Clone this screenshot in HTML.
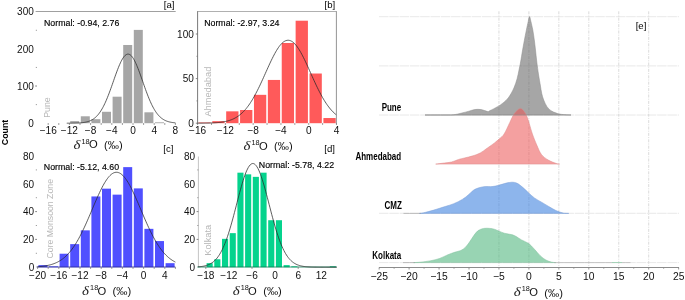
<!DOCTYPE html>
<html><head><meta charset="utf-8"><style>
html,body{margin:0;padding:0;background:#fff;}
svg{display:block;will-change:transform;font-family:"Liberation Sans", sans-serif;}
</style></head><body>
<svg width="685" height="300" viewBox="0 0 685 300">
<rect width="685" height="300" fill="#fff"/>
<line x1="35.6" y1="11.5" x2="175.7" y2="11.5" stroke="#a0a0a0" stroke-width="1"/>
<rect x="70.20" y="121.12" width="9.00" height="2.08" fill="#a6a6a6"/>
<rect x="80.80" y="116.29" width="9.00" height="6.91" fill="#a6a6a6"/>
<rect x="91.40" y="119.19" width="9.00" height="4.01" fill="#a6a6a6"/>
<rect x="102.00" y="111.79" width="9.00" height="11.41" fill="#a6a6a6"/>
<rect x="112.60" y="96.70" width="9.00" height="26.50" fill="#a6a6a6"/>
<rect x="123.20" y="44.99" width="9.00" height="78.21" fill="#a6a6a6"/>
<rect x="133.80" y="29.90" width="9.00" height="93.30" fill="#a6a6a6"/>
<rect x="144.40" y="112.31" width="9.00" height="10.89" fill="#a6a6a6"/>
<rect x="155.00" y="122.31" width="9.00" height="0.89" fill="#a6a6a6"/>
<path d="M66.75,123.19 L67.43,123.19 L68.11,123.18 L68.79,123.18 L69.47,123.18 L70.15,123.17 L70.82,123.17 L71.50,123.16 L72.18,123.15 L72.86,123.14 L73.54,123.13 L74.22,123.12 L74.90,123.11 L75.58,123.09 L76.26,123.07 L76.94,123.04 L77.62,123.02 L78.29,122.99 L78.97,122.95 L79.65,122.91 L80.33,122.86 L81.01,122.80 L81.69,122.74 L82.37,122.67 L83.05,122.59 L83.73,122.49 L84.41,122.39 L85.08,122.27 L85.76,122.13 L86.44,121.98 L87.12,121.81 L87.80,121.62 L88.48,121.41 L89.16,121.17 L89.84,120.91 L90.52,120.62 L91.20,120.29 L91.88,119.94 L92.55,119.54 L93.23,119.11 L93.91,118.64 L94.59,118.12 L95.27,117.56 L95.95,116.95 L96.63,116.29 L97.31,115.57 L97.99,114.80 L98.67,113.97 L99.34,113.08 L100.02,112.13 L100.70,111.11 L101.38,110.03 L102.06,108.89 L102.74,107.67 L103.42,106.40 L104.10,105.05 L104.78,103.64 L105.46,102.17 L106.14,100.63 L106.81,99.03 L107.49,97.38 L108.17,95.67 L108.85,93.91 L109.53,92.11 L110.21,90.27 L110.89,88.39 L111.57,86.48 L112.25,84.56 L112.93,82.62 L113.61,80.67 L114.28,78.73 L114.96,76.80 L115.64,74.89 L116.32,73.01 L117.00,71.17 L117.68,69.37 L118.36,67.64 L119.04,65.97 L119.72,64.38 L120.40,62.87 L121.08,61.46 L121.75,60.15 L122.43,58.96 L123.11,57.88 L123.79,56.93 L124.47,56.10 L125.15,55.42 L125.83,54.87 L126.51,54.47 L127.19,54.21 L127.87,54.10 L128.54,54.15 L129.22,54.34 L129.90,54.67 L130.58,55.15 L131.26,55.78 L131.94,56.54 L132.62,57.44 L133.30,58.46 L133.98,59.60 L134.66,60.86 L135.34,62.23 L136.01,63.69 L136.69,65.24 L137.37,66.88 L138.05,68.59 L138.73,70.35 L139.41,72.18 L140.09,74.04 L140.77,75.94 L141.45,77.86 L142.13,79.80 L142.81,81.74 L143.48,83.69 L144.16,85.62 L144.84,87.54 L145.52,89.43 L146.20,91.29 L146.88,93.11 L147.56,94.89 L148.24,96.62 L148.92,98.30 L149.60,99.92 L150.27,101.48 L150.95,102.99 L151.63,104.43 L152.31,105.80 L152.99,107.11 L153.67,108.35 L154.35,109.53 L155.03,110.64 L155.71,111.68 L156.39,112.66 L157.07,113.58 L157.74,114.44 L158.42,115.23 L159.10,115.97 L159.78,116.66 L160.46,117.29 L161.14,117.88 L161.82,118.41 L162.50,118.90 L163.18,119.35 L163.86,119.76 L164.53,120.14 L165.21,120.47 L165.89,120.78 L166.57,121.06 L167.25,121.31 L167.93,121.53 L168.61,121.73 L169.29,121.91 L169.97,122.07 L170.65,122.21 L171.33,122.34 L172.00,122.45 L172.68,122.55 L173.36,122.63 L174.04,122.71 L174.72,122.78 L175.40,122.84" fill="none" stroke="#282828" stroke-width="0.75"/>
<text x="48.20" y="134.00" font-size="10.1" text-anchor="middle" font-weight="normal" fill="#111" >−16</text>
<text x="69.40" y="134.00" font-size="10.1" text-anchor="middle" font-weight="normal" fill="#111" >−12</text>
<text x="90.60" y="134.00" font-size="10.1" text-anchor="middle" font-weight="normal" fill="#111" >−8</text>
<text x="111.80" y="134.00" font-size="10.1" text-anchor="middle" font-weight="normal" fill="#111" >−4</text>
<text x="133.00" y="134.00" font-size="10.1" text-anchor="middle" font-weight="normal" fill="#111" >0</text>
<text x="154.20" y="134.00" font-size="10.1" text-anchor="middle" font-weight="normal" fill="#111" >4</text>
<text x="175.40" y="134.00" font-size="10.1" text-anchor="middle" font-weight="normal" fill="#111" >8</text>
<line x1="48.20" y1="123.20" x2="48.20" y2="124.80" stroke="#666" stroke-width="0.8"/>
<line x1="58.80" y1="123.20" x2="58.80" y2="124.80" stroke="#666" stroke-width="0.8"/>
<line x1="69.40" y1="123.20" x2="69.40" y2="124.80" stroke="#666" stroke-width="0.8"/>
<line x1="80.00" y1="123.20" x2="80.00" y2="124.80" stroke="#666" stroke-width="0.8"/>
<line x1="90.60" y1="123.20" x2="90.60" y2="124.80" stroke="#666" stroke-width="0.8"/>
<line x1="101.20" y1="123.20" x2="101.20" y2="124.80" stroke="#666" stroke-width="0.8"/>
<line x1="111.80" y1="123.20" x2="111.80" y2="124.80" stroke="#666" stroke-width="0.8"/>
<line x1="122.40" y1="123.20" x2="122.40" y2="124.80" stroke="#666" stroke-width="0.8"/>
<line x1="133.00" y1="123.20" x2="133.00" y2="124.80" stroke="#666" stroke-width="0.8"/>
<line x1="143.60" y1="123.20" x2="143.60" y2="124.80" stroke="#666" stroke-width="0.8"/>
<line x1="154.20" y1="123.20" x2="154.20" y2="124.80" stroke="#666" stroke-width="0.8"/>
<line x1="164.80" y1="123.20" x2="164.80" y2="124.80" stroke="#666" stroke-width="0.8"/>
<line x1="175.40" y1="123.20" x2="175.40" y2="124.80" stroke="#666" stroke-width="0.8"/>
<text x="33.80" y="15.39" font-size="10.0" text-anchor="end" font-weight="normal" fill="#111" >300</text>
<text x="33.80" y="52.56" font-size="10.0" text-anchor="end" font-weight="normal" fill="#111" >200</text>
<text x="33.80" y="89.73" font-size="10.0" text-anchor="end" font-weight="normal" fill="#111" >100</text>
<text x="33.80" y="126.90" font-size="10.0" text-anchor="end" font-weight="normal" fill="#111" >0</text>
<line x1="35.20" y1="86.03" x2="37.00" y2="86.03" stroke="#666" stroke-width="0.8"/>
<line x1="35.80" y1="30.28" x2="37.00" y2="30.28" stroke="#888" stroke-width="0.8"/>
<line x1="35.80" y1="67.45" x2="37.00" y2="67.45" stroke="#888" stroke-width="0.8"/>
<line x1="35.80" y1="104.62" x2="37.00" y2="104.62" stroke="#888" stroke-width="0.8"/>
<text x="44.00" y="26.00" font-size="8.8" text-anchor="start" font-weight="normal" fill="#000" stroke="#000" stroke-width="0.15">Normal: -0.94, 2.76</text>
<text x="174.50" y="8.20" font-size="9.6" text-anchor="end" font-weight="normal" fill="#000" >[a]</text>
<text transform="translate(50.4,117.8) rotate(-90)" font-size="9.6" fill="#b8b8b8" textLength="20.5" lengthAdjust="spacingAndGlyphs">Pune</text>
<text transform="translate(73.50,148.50) scale(1.22,1)" font-family="Liberation Serif" font-style="italic" font-size="12.2" fill="#222">δ</text>
<text x="81.50" y="143.50" font-size="7.3" fill="#111">18</text>
<text x="88.90" y="148.20" font-size="11.2" fill="#111">O</text>
<text x="104.00" y="148.80" font-size="11.2" fill="#111">(‰)</text>
<rect x="198.40" y="122.49" width="12.29" height="0.71" fill="#ff5a5a"/>
<rect x="212.29" y="121.15" width="12.29" height="2.05" fill="#ff5a5a"/>
<rect x="226.18" y="111.34" width="12.29" height="11.86" fill="#ff5a5a"/>
<rect x="240.07" y="110.00" width="12.29" height="13.20" fill="#ff5a5a"/>
<rect x="253.96" y="94.83" width="12.29" height="28.37" fill="#ff5a5a"/>
<rect x="267.85" y="79.94" width="12.29" height="43.26" fill="#ff5a5a"/>
<rect x="281.74" y="43.01" width="12.29" height="80.19" fill="#ff5a5a"/>
<rect x="295.63" y="20.71" width="12.29" height="102.49" fill="#ff5a5a"/>
<rect x="309.52" y="73.52" width="12.29" height="49.68" fill="#ff5a5a"/>
<rect x="323.41" y="118.03" width="12.29" height="5.17" fill="#ff5a5a"/>
<path d="M197.60,123.17 L198.47,123.17 L199.34,123.17 L200.20,123.16 L201.07,123.15 L201.94,123.15 L202.81,123.14 L203.68,123.13 L204.54,123.12 L205.41,123.10 L206.28,123.09 L207.15,123.07 L208.02,123.05 L208.89,123.03 L209.75,123.01 L210.62,122.98 L211.49,122.95 L212.36,122.91 L213.23,122.87 L214.09,122.83 L214.96,122.78 L215.83,122.72 L216.70,122.66 L217.57,122.59 L218.44,122.51 L219.30,122.42 L220.17,122.33 L221.04,122.22 L221.91,122.10 L222.78,121.97 L223.64,121.83 L224.51,121.67 L225.38,121.49 L226.25,121.30 L227.12,121.09 L227.98,120.86 L228.85,120.61 L229.72,120.33 L230.59,120.03 L231.46,119.71 L232.32,119.35 L233.19,118.97 L234.06,118.56 L234.93,118.11 L235.80,117.63 L236.67,117.11 L237.53,116.55 L238.40,115.96 L239.27,115.32 L240.14,114.64 L241.01,113.91 L241.87,113.14 L242.74,112.32 L243.61,111.44 L244.48,110.52 L245.35,109.55 L246.22,108.52 L247.08,107.44 L247.95,106.30 L248.82,105.11 L249.69,103.87 L250.56,102.57 L251.42,101.21 L252.29,99.80 L253.16,98.34 L254.03,96.83 L254.90,95.26 L255.76,93.65 L256.63,91.98 L257.50,90.28 L258.37,88.53 L259.24,86.75 L260.11,84.93 L260.97,83.07 L261.84,81.20 L262.71,79.30 L263.58,77.38 L264.45,75.44 L265.31,73.51 L266.18,71.56 L267.05,69.63 L267.92,67.70 L268.79,65.79 L269.65,63.90 L270.52,62.04 L271.39,60.22 L272.26,58.44 L273.13,56.71 L274.00,55.03 L274.86,53.41 L275.73,51.86 L276.60,50.39 L277.47,49.00 L278.34,47.69 L279.20,46.47 L280.07,45.35 L280.94,44.33 L281.81,43.42 L282.68,42.61 L283.54,41.92 L284.41,41.35 L285.28,40.89 L286.15,40.55 L287.02,40.34 L287.88,40.25 L288.75,40.28 L289.62,40.44 L290.49,40.71 L291.36,41.11 L292.23,41.63 L293.09,42.27 L293.96,43.02 L294.83,43.88 L295.70,44.85 L296.57,45.92 L297.43,47.09 L298.30,48.36 L299.17,49.71 L300.04,51.15 L300.91,52.66 L301.77,54.24 L302.64,55.89 L303.51,57.60 L304.38,59.36 L305.25,61.16 L306.12,63.01 L306.98,64.88 L307.85,66.78 L308.72,68.70 L309.59,70.63 L310.46,72.57 L311.32,74.51 L312.19,76.45 L313.06,78.38 L313.93,80.29 L314.80,82.18 L315.66,84.04 L316.53,85.88 L317.40,87.68 L318.27,89.45 L319.14,91.17 L320.01,92.85 L320.87,94.49 L321.74,96.08 L322.61,97.62 L323.48,99.11 L324.35,100.54 L325.21,101.92 L326.08,103.25 L326.95,104.52 L327.82,105.74 L328.69,106.90 L329.56,108.01 L330.42,109.06 L331.29,110.06 L332.16,111.01 L333.03,111.90 L333.90,112.75 L334.76,113.55 L335.63,114.29 L336.50,115.00" fill="none" stroke="#282828" stroke-width="0.75"/>
<text x="197.60" y="134.00" font-size="10.1" text-anchor="middle" font-weight="normal" fill="#111" >−16</text>
<text x="225.38" y="134.00" font-size="10.1" text-anchor="middle" font-weight="normal" fill="#111" >−12</text>
<text x="253.16" y="134.00" font-size="10.1" text-anchor="middle" font-weight="normal" fill="#111" >−8</text>
<text x="280.94" y="134.00" font-size="10.1" text-anchor="middle" font-weight="normal" fill="#111" >−4</text>
<text x="308.72" y="134.00" font-size="10.1" text-anchor="middle" font-weight="normal" fill="#111" >0</text>
<text x="336.50" y="134.00" font-size="10.1" text-anchor="middle" font-weight="normal" fill="#111" >4</text>
<line x1="197.60" y1="123.20" x2="197.60" y2="124.80" stroke="#666" stroke-width="0.8"/>
<line x1="211.49" y1="123.20" x2="211.49" y2="124.80" stroke="#666" stroke-width="0.8"/>
<line x1="225.38" y1="123.20" x2="225.38" y2="124.80" stroke="#666" stroke-width="0.8"/>
<line x1="239.27" y1="123.20" x2="239.27" y2="124.80" stroke="#666" stroke-width="0.8"/>
<line x1="253.16" y1="123.20" x2="253.16" y2="124.80" stroke="#666" stroke-width="0.8"/>
<line x1="267.05" y1="123.20" x2="267.05" y2="124.80" stroke="#666" stroke-width="0.8"/>
<line x1="280.94" y1="123.20" x2="280.94" y2="124.80" stroke="#666" stroke-width="0.8"/>
<line x1="294.83" y1="123.20" x2="294.83" y2="124.80" stroke="#666" stroke-width="0.8"/>
<line x1="308.72" y1="123.20" x2="308.72" y2="124.80" stroke="#666" stroke-width="0.8"/>
<line x1="322.61" y1="123.20" x2="322.61" y2="124.80" stroke="#666" stroke-width="0.8"/>
<line x1="336.50" y1="123.20" x2="336.50" y2="124.80" stroke="#666" stroke-width="0.8"/>
<text x="193.80" y="37.70" font-size="10.0" text-anchor="end" font-weight="normal" fill="#111" >100</text>
<text x="193.80" y="82.30" font-size="10.0" text-anchor="end" font-weight="normal" fill="#111" >50</text>
<text x="193.80" y="126.90" font-size="10.0" text-anchor="end" font-weight="normal" fill="#111" >0</text>
<line x1="195.80" y1="34.00" x2="197.60" y2="34.00" stroke="#666" stroke-width="0.8"/>
<line x1="195.80" y1="78.60" x2="197.60" y2="78.60" stroke="#666" stroke-width="0.8"/>
<line x1="195.80" y1="123.20" x2="197.60" y2="123.20" stroke="#666" stroke-width="0.8"/>
<line x1="196.40" y1="56.30" x2="197.60" y2="56.30" stroke="#888" stroke-width="0.8"/>
<line x1="196.40" y1="100.90" x2="197.60" y2="100.90" stroke="#888" stroke-width="0.8"/>
<line x1="197.6" y1="11.5" x2="336.4" y2="11.5" stroke="#b0b0b0" stroke-width="1"/>
<line x1="197.6" y1="11.2" x2="197.6" y2="124" stroke="#6a6a6a" stroke-width="0.9"/>
<line x1="336.4" y1="11.2" x2="336.4" y2="124.5" stroke="#888" stroke-width="0.9"/>
<text x="204.20" y="25.80" font-size="8.8" text-anchor="start" font-weight="normal" fill="#000" stroke="#000" stroke-width="0.15">Normal: -2.97, 3.24</text>
<text x="335.20" y="8.30" font-size="9.6" text-anchor="end" font-weight="normal" fill="#000" >[b]</text>
<text transform="translate(211.2,116.6) rotate(-90)" font-size="9" fill="#b8b8b8" textLength="49.9" lengthAdjust="spacingAndGlyphs">Ahmedabad</text>
<text transform="translate(243.50,149.90) scale(1.22,1)" font-family="Liberation Serif" font-style="italic" font-size="12.2" fill="#222">δ</text>
<text x="251.50" y="144.90" font-size="7.3" fill="#111">18</text>
<text x="258.90" y="149.60" font-size="11.2" fill="#111">O</text>
<text x="274.00" y="150.20" font-size="11.2" fill="#111">(‰)</text>
<rect x="38.40" y="265.12" width="9.00" height="2.08" fill="#5050ff"/>
<rect x="49.00" y="266.37" width="9.00" height="0.83" fill="#5050ff"/>
<rect x="59.60" y="253.72" width="9.00" height="13.48" fill="#5050ff"/>
<rect x="70.20" y="244.13" width="9.00" height="23.07" fill="#5050ff"/>
<rect x="80.80" y="230.36" width="9.00" height="36.84" fill="#5050ff"/>
<rect x="91.40" y="196.45" width="9.00" height="70.75" fill="#5050ff"/>
<rect x="102.00" y="188.66" width="9.00" height="78.53" fill="#5050ff"/>
<rect x="112.60" y="194.64" width="9.00" height="72.56" fill="#5050ff"/>
<rect x="123.20" y="167.12" width="9.00" height="100.08" fill="#5050ff"/>
<rect x="133.80" y="188.39" width="9.00" height="78.81" fill="#5050ff"/>
<rect x="144.40" y="228.84" width="9.00" height="38.36" fill="#5050ff"/>
<rect x="155.00" y="241.07" width="9.00" height="26.13" fill="#5050ff"/>
<rect x="165.60" y="263.17" width="9.00" height="4.03" fill="#5050ff"/>
<line x1="36.54" y1="267.00" x2="175.40" y2="267.00" stroke="#2a2a90" stroke-width="0.8"/>
<path d="M37.60,266.69 L38.46,266.63 L39.32,266.56 L40.18,266.49 L41.04,266.41 L41.91,266.32 L42.77,266.22 L43.63,266.11 L44.49,265.98 L45.35,265.85 L46.21,265.71 L47.07,265.55 L47.93,265.37 L48.80,265.18 L49.66,264.98 L50.52,264.75 L51.38,264.51 L52.24,264.24 L53.10,263.96 L53.96,263.65 L54.83,263.31 L55.69,262.95 L56.55,262.57 L57.41,262.15 L58.27,261.70 L59.13,261.22 L59.99,260.71 L60.85,260.16 L61.72,259.57 L62.58,258.95 L63.44,258.28 L64.30,257.58 L65.16,256.83 L66.02,256.03 L66.88,255.20 L67.74,254.31 L68.60,253.38 L69.47,252.39 L70.33,251.36 L71.19,250.27 L72.05,249.14 L72.91,247.95 L73.77,246.71 L74.63,245.41 L75.50,244.07 L76.36,242.67 L77.22,241.22 L78.08,239.71 L78.94,238.16 L79.80,236.55 L80.66,234.90 L81.52,233.20 L82.38,231.46 L83.25,229.67 L84.11,227.85 L84.97,225.99 L85.83,224.09 L86.69,222.16 L87.55,220.20 L88.41,218.22 L89.28,216.22 L90.14,214.21 L91.00,212.18 L91.86,210.15 L92.72,208.12 L93.58,206.09 L94.44,204.07 L95.30,202.06 L96.16,200.07 L97.03,198.11 L97.89,196.18 L98.75,194.29 L99.61,192.44 L100.47,190.64 L101.33,188.90 L102.19,187.21 L103.05,185.59 L103.92,184.04 L104.78,182.57 L105.64,181.18 L106.50,179.87 L107.36,178.65 L108.22,177.54 L109.08,176.51 L109.94,175.60 L110.81,174.79 L111.67,174.08 L112.53,173.49 L113.39,173.01 L114.25,172.65 L115.11,172.41 L115.97,172.28 L116.83,172.27 L117.70,172.38 L118.56,172.61 L119.42,172.96 L120.28,173.42 L121.14,173.99 L122.00,174.68 L122.86,175.48 L123.72,176.38 L124.59,177.39 L125.45,178.49 L126.31,179.70 L127.17,180.99 L128.03,182.37 L128.89,183.83 L129.75,185.37 L130.62,186.98 L131.48,188.66 L132.34,190.40 L133.20,192.19 L134.06,194.03 L134.92,195.92 L135.78,197.84 L136.64,199.80 L137.50,201.78 L138.37,203.79 L139.23,205.81 L140.09,207.83 L140.95,209.87 L141.81,211.90 L142.67,213.93 L143.53,215.95 L144.39,217.95 L145.26,219.93 L146.12,221.89 L146.98,223.82 L147.84,225.73 L148.70,227.59 L149.56,229.42 L150.42,231.22 L151.28,232.96 L152.15,234.67 L153.01,236.33 L153.87,237.94 L154.73,239.50 L155.59,241.01 L156.45,242.47 L157.31,243.88 L158.17,245.23 L159.04,246.53 L159.90,247.78 L160.76,248.98 L161.62,250.12 L162.48,251.21 L163.34,252.25 L164.20,253.24 L165.06,254.18 L165.93,255.08 L166.79,255.92 L167.65,256.72 L168.51,257.48 L169.37,258.19 L170.23,258.86 L171.09,259.49 L171.96,260.08 L172.82,260.63 L173.68,261.15 L174.54,261.64 L175.40,262.09" fill="none" stroke="#282828" stroke-width="0.75"/>
<text x="37.60" y="278.60" font-size="10.1" text-anchor="middle" font-weight="normal" fill="#111" >−20</text>
<text x="58.80" y="278.60" font-size="10.1" text-anchor="middle" font-weight="normal" fill="#111" >−16</text>
<text x="80.00" y="278.60" font-size="10.1" text-anchor="middle" font-weight="normal" fill="#111" >−12</text>
<text x="101.20" y="278.60" font-size="10.1" text-anchor="middle" font-weight="normal" fill="#111" >−8</text>
<text x="122.40" y="278.60" font-size="10.1" text-anchor="middle" font-weight="normal" fill="#111" >−4</text>
<text x="143.60" y="278.60" font-size="10.1" text-anchor="middle" font-weight="normal" fill="#111" >0</text>
<text x="164.80" y="278.60" font-size="10.1" text-anchor="middle" font-weight="normal" fill="#111" >4</text>
<line x1="37.60" y1="267.20" x2="37.60" y2="268.80" stroke="#666" stroke-width="0.8"/>
<line x1="48.20" y1="267.20" x2="48.20" y2="268.80" stroke="#666" stroke-width="0.8"/>
<line x1="58.80" y1="267.20" x2="58.80" y2="268.80" stroke="#666" stroke-width="0.8"/>
<line x1="69.40" y1="267.20" x2="69.40" y2="268.80" stroke="#666" stroke-width="0.8"/>
<line x1="80.00" y1="267.20" x2="80.00" y2="268.80" stroke="#666" stroke-width="0.8"/>
<line x1="90.60" y1="267.20" x2="90.60" y2="268.80" stroke="#666" stroke-width="0.8"/>
<line x1="101.20" y1="267.20" x2="101.20" y2="268.80" stroke="#666" stroke-width="0.8"/>
<line x1="111.80" y1="267.20" x2="111.80" y2="268.80" stroke="#666" stroke-width="0.8"/>
<line x1="122.40" y1="267.20" x2="122.40" y2="268.80" stroke="#666" stroke-width="0.8"/>
<line x1="133.00" y1="267.20" x2="133.00" y2="268.80" stroke="#666" stroke-width="0.8"/>
<line x1="143.60" y1="267.20" x2="143.60" y2="268.80" stroke="#666" stroke-width="0.8"/>
<line x1="154.20" y1="267.20" x2="154.20" y2="268.80" stroke="#666" stroke-width="0.8"/>
<line x1="164.80" y1="267.20" x2="164.80" y2="268.80" stroke="#666" stroke-width="0.8"/>
<line x1="175.40" y1="267.20" x2="175.40" y2="268.80" stroke="#666" stroke-width="0.8"/>
<text x="34.20" y="159.70" font-size="10.0" text-anchor="end" font-weight="normal" fill="#111" >80</text>
<text x="34.20" y="187.50" font-size="10.0" text-anchor="end" font-weight="normal" fill="#111" >60</text>
<text x="34.20" y="215.30" font-size="10.0" text-anchor="end" font-weight="normal" fill="#111" >40</text>
<text x="34.20" y="243.10" font-size="10.0" text-anchor="end" font-weight="normal" fill="#111" >20</text>
<text x="34.20" y="270.90" font-size="10.0" text-anchor="end" font-weight="normal" fill="#111" >0</text>
<line x1="35.20" y1="211.60" x2="37.00" y2="211.60" stroke="#666" stroke-width="0.8"/>
<line x1="35.20" y1="239.40" x2="37.00" y2="239.40" stroke="#666" stroke-width="0.8"/>
<line x1="35.80" y1="169.90" x2="37.00" y2="169.90" stroke="#888" stroke-width="0.8"/>
<line x1="35.80" y1="197.70" x2="37.00" y2="197.70" stroke="#888" stroke-width="0.8"/>
<line x1="35.80" y1="225.50" x2="37.00" y2="225.50" stroke="#888" stroke-width="0.8"/>
<line x1="35.80" y1="253.30" x2="37.00" y2="253.30" stroke="#888" stroke-width="0.8"/>
<text x="43.80" y="170.40" font-size="8.8" text-anchor="start" font-weight="normal" fill="#000" stroke="#000" stroke-width="0.15">Normal: -5.12, 4.60</text>
<text x="173.40" y="151.50" font-size="9.6" text-anchor="end" font-weight="normal" fill="#000" >[c]</text>
<text transform="translate(52.5,258.5) rotate(-90)" font-size="8.9" fill="#b8b8b8" textLength="79.5" lengthAdjust="spacingAndGlyphs">Core Monsoon Zone</text>
<text transform="translate(82.10,295.10) scale(1.22,1)" font-family="Liberation Serif" font-style="italic" font-size="12.2" fill="#222">δ</text>
<text x="90.10" y="290.10" font-size="7.3" fill="#111">18</text>
<text x="97.50" y="294.80" font-size="11.2" fill="#111">O</text>
<text x="112.60" y="295.40" font-size="11.2" fill="#111">(‰)</text>
<line x1="198.4" y1="156.5" x2="198.4" y2="267.2" stroke="#c4c4c4" stroke-width="1"/>
<rect x="206.60" y="263.17" width="6.10" height="4.03" fill="#05d38d"/>
<rect x="214.30" y="259.28" width="6.10" height="7.92" fill="#05d38d"/>
<rect x="222.00" y="238.84" width="6.10" height="28.36" fill="#05d38d"/>
<rect x="229.70" y="233.14" width="6.10" height="34.06" fill="#05d38d"/>
<rect x="237.40" y="172.68" width="6.10" height="94.52" fill="#05d38d"/>
<rect x="245.10" y="174.35" width="6.10" height="92.85" fill="#05d38d"/>
<rect x="252.80" y="176.85" width="6.10" height="90.35" fill="#05d38d"/>
<rect x="260.50" y="172.68" width="6.10" height="94.52" fill="#05d38d"/>
<rect x="268.20" y="220.22" width="6.10" height="46.98" fill="#05d38d"/>
<rect x="275.90" y="220.22" width="6.10" height="46.98" fill="#05d38d"/>
<rect x="283.60" y="265.12" width="6.10" height="2.08" fill="#05d38d"/>
<rect x="291.30" y="266.37" width="6.10" height="0.83" fill="#05d38d"/>
<rect x="329.80" y="266.37" width="6.10" height="0.83" fill="#05d38d"/>
<line x1="197.33" y1="267.00" x2="336.70" y2="267.00" stroke="#0a7a50" stroke-width="0.8"/>
<path d="M198.10,266.85 L198.97,266.78 L199.83,266.69 L200.70,266.60 L201.56,266.49 L202.43,266.36 L203.30,266.21 L204.16,266.04 L205.03,265.84 L205.90,265.61 L206.76,265.34 L207.63,265.04 L208.50,264.70 L209.36,264.32 L210.23,263.88 L211.09,263.38 L211.96,262.83 L212.83,262.21 L213.69,261.52 L214.56,260.75 L215.43,259.89 L216.29,258.95 L217.16,257.91 L218.02,256.77 L218.89,255.53 L219.76,254.17 L220.62,252.70 L221.49,251.10 L222.36,249.38 L223.22,247.53 L224.09,245.56 L224.95,243.45 L225.82,241.21 L226.69,238.84 L227.55,236.34 L228.42,233.71 L229.29,230.97 L230.15,228.11 L231.02,225.15 L231.88,222.09 L232.75,218.95 L233.62,215.73 L234.48,212.46 L235.35,209.14 L236.22,205.80 L237.08,202.44 L237.95,199.10 L238.81,195.79 L239.68,192.53 L240.55,189.35 L241.41,186.25 L242.28,183.28 L243.15,180.44 L244.01,177.76 L244.88,175.26 L245.74,172.96 L246.61,170.87 L247.48,169.02 L248.34,167.42 L249.21,166.07 L250.08,165.00 L250.94,164.22 L251.81,163.72 L252.67,163.51 L253.54,163.60 L254.41,163.98 L255.27,164.66 L256.14,165.61 L257.00,166.85 L257.87,168.35 L258.74,170.10 L259.60,172.10 L260.47,174.31 L261.34,176.74 L262.20,179.35 L263.07,182.13 L263.94,185.05 L264.80,188.10 L265.67,191.25 L266.53,194.48 L267.40,197.77 L268.27,201.10 L269.13,204.46 L270.00,207.81 L270.87,211.14 L271.73,214.43 L272.60,217.67 L273.46,220.85 L274.33,223.94 L275.20,226.94 L276.06,229.84 L276.93,232.63 L277.80,235.30 L278.66,237.85 L279.53,240.27 L280.39,242.57 L281.26,244.73 L282.13,246.76 L282.99,248.66 L283.86,250.43 L284.73,252.07 L285.59,253.59 L286.46,255.00 L287.32,256.29 L288.19,257.47 L289.06,258.55 L289.92,259.53 L290.79,260.42 L291.66,261.22 L292.52,261.94 L293.39,262.59 L294.25,263.17 L295.12,263.69 L295.99,264.15 L296.85,264.55 L297.72,264.91 L298.59,265.23 L299.45,265.51 L300.32,265.75 L301.18,265.96 L302.05,266.14 L302.92,266.30 L303.78,266.44 L304.65,266.56 L305.52,266.66 L306.38,266.74 L307.25,266.82 L308.11,266.88 L308.98,266.93 L309.85,266.98 L310.71,267.02 L311.58,267.05 L312.45,267.08 L313.31,267.10 L314.18,267.12 L315.04,267.13 L315.91,267.14 L316.78,267.15 L317.64,267.16 L318.51,267.17 L319.38,267.18 L320.24,267.18 L321.11,267.18 L321.97,267.19 L322.84,267.19 L323.71,267.19 L324.57,267.19 L325.44,267.20 L326.31,267.20 L327.17,267.20 L328.04,267.20 L328.90,267.20 L329.77,267.20 L330.64,267.20 L331.50,267.20 L332.37,267.20 L333.24,267.20 L334.10,267.20 L334.97,267.20 L335.83,267.20 L336.70,267.20" fill="none" stroke="#282828" stroke-width="0.75"/>
<text x="205.80" y="278.60" font-size="10.1" text-anchor="middle" font-weight="normal" fill="#111" >−18</text>
<text x="228.90" y="278.60" font-size="10.1" text-anchor="middle" font-weight="normal" fill="#111" >−12</text>
<text x="252.00" y="278.60" font-size="10.1" text-anchor="middle" font-weight="normal" fill="#111" >−6</text>
<text x="275.10" y="278.60" font-size="10.1" text-anchor="middle" font-weight="normal" fill="#111" >0</text>
<text x="298.20" y="278.60" font-size="10.1" text-anchor="middle" font-weight="normal" fill="#111" >6</text>
<text x="321.30" y="278.60" font-size="10.1" text-anchor="middle" font-weight="normal" fill="#111" >12</text>
<line x1="205.80" y1="267.20" x2="205.80" y2="268.80" stroke="#666" stroke-width="0.8"/>
<line x1="252.00" y1="267.20" x2="252.00" y2="268.80" stroke="#666" stroke-width="0.8"/>
<line x1="298.20" y1="267.20" x2="298.20" y2="268.80" stroke="#666" stroke-width="0.8"/>
<text x="195.00" y="159.70" font-size="10.0" text-anchor="end" font-weight="normal" fill="#111" >80</text>
<text x="195.00" y="187.50" font-size="10.0" text-anchor="end" font-weight="normal" fill="#111" >60</text>
<text x="195.00" y="215.30" font-size="10.0" text-anchor="end" font-weight="normal" fill="#111" >40</text>
<text x="195.00" y="243.10" font-size="10.0" text-anchor="end" font-weight="normal" fill="#111" >20</text>
<text x="195.00" y="270.90" font-size="10.0" text-anchor="end" font-weight="normal" fill="#111" >0</text>
<line x1="196.60" y1="211.60" x2="198.40" y2="211.60" stroke="#666" stroke-width="0.8"/>
<line x1="196.60" y1="239.40" x2="198.40" y2="239.40" stroke="#666" stroke-width="0.8"/>
<line x1="197.20" y1="169.90" x2="198.40" y2="169.90" stroke="#888" stroke-width="0.8"/>
<line x1="197.20" y1="197.70" x2="198.40" y2="197.70" stroke="#888" stroke-width="0.8"/>
<line x1="197.20" y1="225.50" x2="198.40" y2="225.50" stroke="#888" stroke-width="0.8"/>
<text x="258.80" y="168.40" font-size="8.8" text-anchor="start" font-weight="normal" fill="#000" stroke="#000" stroke-width="0.15">Normal: -5.78, 4.22</text>
<text x="335.00" y="151.80" font-size="9.6" text-anchor="end" font-weight="normal" fill="#000" >[d]</text>
<text transform="translate(210.6,255.8) rotate(-90)" font-size="9.4" fill="#b8b8b8" textLength="31" lengthAdjust="spacingAndGlyphs">Kolkata</text>
<text transform="translate(232.70,295.10) scale(1.22,1)" font-family="Liberation Serif" font-style="italic" font-size="12.2" fill="#222">δ</text>
<text x="240.70" y="290.10" font-size="7.3" fill="#111">18</text>
<text x="248.10" y="294.80" font-size="11.2" fill="#111">O</text>
<text x="263.20" y="295.40" font-size="11.2" fill="#111">(‰)</text>
<text transform="translate(7.5,145.2) rotate(-90)" font-size="9.8" font-weight="bold" textLength="25.5" lengthAdjust="spacingAndGlyphs">Count</text>
<line x1="379" y1="16.7" x2="679" y2="16.7" stroke="#e2e2e2" stroke-width="0.8" stroke-dasharray="9.5,0.8"/>
<line x1="379" y1="65.9" x2="679" y2="65.9" stroke="#e2e2e2" stroke-width="0.8" stroke-dasharray="9.5,0.8"/>
<line x1="379" y1="115.0" x2="679" y2="115.0" stroke="#e2e2e2" stroke-width="0.8" stroke-dasharray="9.5,0.8"/>
<line x1="379" y1="213.3" x2="679" y2="213.3" stroke="#e2e2e2" stroke-width="0.8" stroke-dasharray="9.5,0.8"/>
<line x1="379" y1="262.6" x2="679" y2="262.6" stroke="#e2e2e2" stroke-width="0.8" stroke-dasharray="9.5,0.8"/>
<line x1="498.95" y1="11.3" x2="498.95" y2="267.4" stroke="#d2d2d2" stroke-width="0.8" stroke-dasharray="3,1.2,1,1.2"/>
<line x1="528.90" y1="11.3" x2="528.90" y2="267.4" stroke="#d2d2d2" stroke-width="0.8" stroke-dasharray="3,1.2,1,1.2"/>
<line x1="558.85" y1="11.3" x2="558.85" y2="267.4" stroke="#d2d2d2" stroke-width="0.8" stroke-dasharray="3,1.2,1,1.2"/>
<line x1="588.80" y1="11.3" x2="588.80" y2="267.4" stroke="#d2d2d2" stroke-width="0.8" stroke-dasharray="3,1.2,1,1.2"/>
<line x1="618.75" y1="11.3" x2="618.75" y2="267.4" stroke="#d2d2d2" stroke-width="0.8" stroke-dasharray="3,1.2,1,1.2"/>
<line x1="648.70" y1="11.3" x2="648.70" y2="267.4" stroke="#d2d2d2" stroke-width="0.8" stroke-dasharray="3,1.2,1,1.2"/>
<path d="M425.00,115.00 C428.33,115.00 440.23,115.03 445.00,115.00 C449.77,114.97 450.78,115.13 453.60,114.80 C456.42,114.47 459.35,113.60 461.90,113.00 C464.45,112.40 466.72,111.78 468.90,111.20 C471.08,110.62 472.95,109.77 475.00,109.50 C477.05,109.23 479.08,109.27 481.20,109.60 C483.32,109.93 486.23,111.33 487.70,111.50 C489.17,111.67 488.37,111.40 490.00,110.60 C491.63,109.80 495.32,107.98 497.50,106.70 C499.68,105.42 501.23,104.47 503.10,102.90 C504.97,101.33 506.90,99.78 508.70,97.30 C510.50,94.82 512.50,91.10 513.90,88.00 C515.30,84.90 516.25,81.70 517.10,78.70 C517.95,75.70 518.42,72.78 519.00,70.00 C519.58,67.22 520.00,65.33 520.60,62.00 C521.20,58.67 521.90,54.00 522.60,50.00 C523.30,46.00 524.17,41.33 524.80,38.00 C525.43,34.67 525.83,32.75 526.40,30.00 C526.97,27.25 527.68,23.73 528.20,21.50 C528.72,19.27 529.05,16.60 529.50,16.60 C529.95,16.60 530.35,19.27 530.90,21.50 C531.45,23.73 532.23,26.92 532.80,30.00 C533.37,33.08 533.85,36.67 534.30,40.00 C534.75,43.33 535.08,46.33 535.50,50.00 C535.92,53.67 536.28,57.83 536.80,62.00 C537.32,66.17 538.02,71.17 538.60,75.00 C539.18,78.83 539.78,81.95 540.30,85.00 C540.82,88.05 541.13,90.80 541.70,93.30 C542.27,95.80 542.82,97.77 543.70,100.00 C544.58,102.23 545.78,104.92 547.00,106.70 C548.22,108.48 549.45,109.63 551.00,110.70 C552.55,111.77 554.52,112.48 556.30,113.10 C558.08,113.72 559.25,114.08 561.70,114.40 C564.15,114.72 569.45,114.90 571.00,115.00 Z" fill="rgba(93,93,93,0.55)" stroke="#8a8a8a" stroke-width="0.5"/>
<path d="M435.70,164.10 C437.13,163.92 441.67,163.35 444.30,163.00 C446.93,162.65 449.10,162.60 451.50,162.00 C453.90,161.40 456.55,160.07 458.70,159.40 C460.85,158.73 462.02,158.60 464.40,158.00 C466.78,157.40 470.37,156.63 473.00,155.80 C475.63,154.97 477.80,154.30 480.20,153.00 C482.60,151.70 485.02,149.68 487.40,148.00 C489.78,146.32 492.47,144.47 494.50,142.90 C496.53,141.33 498.00,140.08 499.60,138.60 C501.20,137.12 502.42,136.65 504.10,134.00 C505.78,131.35 508.00,126.10 509.70,122.70 C511.40,119.30 512.52,115.98 514.30,113.60 C516.08,111.22 518.52,108.40 520.40,108.40 C522.28,108.40 524.17,111.22 525.60,113.60 C527.03,115.98 527.87,119.30 529.00,122.70 C530.13,126.10 531.08,130.23 532.40,134.00 C533.72,137.77 535.40,141.90 536.90,145.30 C538.40,148.70 539.52,151.95 541.40,154.40 C543.28,156.85 545.73,158.50 548.20,160.00 C550.67,161.50 554.30,162.72 556.20,163.40 C558.10,164.08 559.03,163.98 559.60,164.10 Z" fill="rgba(235,82,82,0.55)" stroke="#d88" stroke-width="0.5"/>
<path d="M419.30,213.40 C420.02,213.30 421.20,213.35 423.60,212.80 C426.00,212.25 430.12,211.15 433.70,210.10 C437.28,209.05 441.77,207.57 445.10,206.50 C448.43,205.43 450.83,204.88 453.70,203.70 C456.57,202.52 459.90,200.83 462.30,199.40 C464.70,197.97 466.18,196.67 468.10,195.10 C470.02,193.53 471.90,191.25 473.80,190.00 C475.70,188.75 477.58,188.18 479.50,187.60 C481.42,187.02 483.22,186.67 485.30,186.50 C487.38,186.33 489.78,186.80 492.00,186.60 C494.22,186.40 496.55,185.80 498.60,185.30 C500.65,184.80 502.15,184.12 504.30,183.60 C506.45,183.08 509.35,182.25 511.50,182.20 C513.65,182.15 515.28,182.40 517.20,183.30 C519.12,184.20 521.08,186.00 523.00,187.60 C524.92,189.20 526.80,191.18 528.70,192.90 C530.60,194.62 532.25,196.35 534.40,197.90 C536.55,199.45 539.20,200.77 541.60,202.20 C544.00,203.63 546.42,205.12 548.80,206.50 C551.18,207.88 553.52,209.42 555.90,210.50 C558.28,211.58 560.95,212.52 563.10,213.00 C565.25,213.48 567.85,213.33 568.80,213.40 Z" fill="rgba(48,120,220,0.55)" stroke="#7a9fd6" stroke-width="0.5"/>
<path d="M413.60,262.60 C414.80,262.52 417.93,262.42 420.80,262.10 C423.67,261.78 427.70,261.30 430.80,260.70 C433.90,260.10 436.53,259.50 439.40,258.50 C442.27,257.50 445.37,255.77 448.00,254.70 C450.63,253.63 453.05,252.82 455.20,252.10 C457.35,251.38 459.23,251.17 460.90,250.40 C462.57,249.63 463.77,248.88 465.20,247.50 C466.63,246.12 468.07,244.08 469.50,242.10 C470.93,240.12 472.37,237.52 473.80,235.60 C475.23,233.68 476.43,231.80 478.10,230.60 C479.77,229.40 481.82,228.77 483.80,228.40 C485.78,228.03 488.25,228.27 490.00,228.40 C491.75,228.53 492.87,228.78 494.30,229.20 C495.73,229.62 496.93,230.23 498.60,230.90 C500.27,231.57 502.15,232.58 504.30,233.20 C506.45,233.82 509.58,234.08 511.50,234.60 C513.42,235.12 514.13,235.42 515.80,236.30 C517.47,237.18 519.35,238.70 521.50,239.90 C523.65,241.10 526.55,241.95 528.70,243.50 C530.85,245.05 532.48,247.17 534.40,249.20 C536.32,251.23 538.28,253.90 540.20,255.70 C542.12,257.50 544.00,258.93 545.90,260.00 C547.80,261.07 549.93,261.67 551.60,262.10 C553.27,262.53 555.18,262.52 555.90,262.60 Z" fill="rgba(68,177,117,0.55)" stroke="#80bf9c" stroke-width="0.5"/>
<line x1="425" y1="115" x2="571" y2="115" stroke="#999" stroke-width="0.6"/>
<line x1="403.5" y1="213.4" x2="421" y2="213.4" stroke="#999" stroke-width="0.6"/>
<line x1="403" y1="262.6" x2="415" y2="262.6" stroke="#999" stroke-width="0.6"/>
<line x1="554" y1="262.6" x2="630.5" y2="262.6" stroke="#aaa" stroke-width="0.6"/>
<line x1="612" y1="262.5" x2="622" y2="262.5" stroke="#9cd4b4" stroke-width="0.8"/>
<line x1="379" y1="267.5" x2="679" y2="267.5" stroke="#8c8c8c" stroke-width="1.2"/>
<line x1="379.15" y1="267.5" x2="379.15" y2="269.5" stroke="#888" stroke-width="0.9"/>
<line x1="394.12" y1="267.5" x2="394.12" y2="268.7" stroke="#888" stroke-width="0.9"/>
<line x1="409.10" y1="267.5" x2="409.10" y2="269.5" stroke="#888" stroke-width="0.9"/>
<line x1="424.07" y1="267.5" x2="424.07" y2="268.7" stroke="#888" stroke-width="0.9"/>
<line x1="439.05" y1="267.5" x2="439.05" y2="269.5" stroke="#888" stroke-width="0.9"/>
<line x1="454.02" y1="267.5" x2="454.02" y2="268.7" stroke="#888" stroke-width="0.9"/>
<line x1="469.00" y1="267.5" x2="469.00" y2="269.5" stroke="#888" stroke-width="0.9"/>
<line x1="483.97" y1="267.5" x2="483.97" y2="268.7" stroke="#888" stroke-width="0.9"/>
<line x1="498.95" y1="267.5" x2="498.95" y2="269.5" stroke="#888" stroke-width="0.9"/>
<line x1="513.92" y1="267.5" x2="513.92" y2="268.7" stroke="#888" stroke-width="0.9"/>
<line x1="528.90" y1="267.5" x2="528.90" y2="269.5" stroke="#888" stroke-width="0.9"/>
<line x1="543.88" y1="267.5" x2="543.88" y2="268.7" stroke="#888" stroke-width="0.9"/>
<line x1="558.85" y1="267.5" x2="558.85" y2="269.5" stroke="#888" stroke-width="0.9"/>
<line x1="573.82" y1="267.5" x2="573.82" y2="268.7" stroke="#888" stroke-width="0.9"/>
<line x1="588.80" y1="267.5" x2="588.80" y2="269.5" stroke="#888" stroke-width="0.9"/>
<line x1="603.77" y1="267.5" x2="603.77" y2="268.7" stroke="#888" stroke-width="0.9"/>
<line x1="618.75" y1="267.5" x2="618.75" y2="269.5" stroke="#888" stroke-width="0.9"/>
<line x1="633.73" y1="267.5" x2="633.73" y2="268.7" stroke="#888" stroke-width="0.9"/>
<line x1="648.70" y1="267.5" x2="648.70" y2="269.5" stroke="#888" stroke-width="0.9"/>
<line x1="663.67" y1="267.5" x2="663.67" y2="268.7" stroke="#888" stroke-width="0.9"/>
<line x1="678.65" y1="267.5" x2="678.65" y2="269.5" stroke="#888" stroke-width="0.9"/>
<text x="379.15" y="280.00" font-size="10.3" text-anchor="middle" font-weight="normal" fill="#111" >−25</text>
<text x="409.10" y="280.00" font-size="10.3" text-anchor="middle" font-weight="normal" fill="#111" >−20</text>
<text x="439.05" y="280.00" font-size="10.3" text-anchor="middle" font-weight="normal" fill="#111" >−15</text>
<text x="469.00" y="280.00" font-size="10.3" text-anchor="middle" font-weight="normal" fill="#111" >−10</text>
<text x="498.95" y="280.00" font-size="10.3" text-anchor="middle" font-weight="normal" fill="#111" >−5</text>
<text x="528.90" y="280.00" font-size="10.3" text-anchor="middle" font-weight="normal" fill="#111" >0</text>
<text x="558.85" y="280.00" font-size="10.3" text-anchor="middle" font-weight="normal" fill="#111" >5</text>
<text x="588.80" y="280.00" font-size="10.3" text-anchor="middle" font-weight="normal" fill="#111" >10</text>
<text x="618.75" y="280.00" font-size="10.3" text-anchor="middle" font-weight="normal" fill="#111" >15</text>
<text x="648.70" y="280.00" font-size="10.3" text-anchor="middle" font-weight="normal" fill="#111" >20</text>
<text x="678.65" y="280.00" font-size="10.3" text-anchor="middle" font-weight="normal" fill="#111" >25</text>
<text transform="translate(513.80,296.30) scale(1.22,1)" font-family="Liberation Serif" font-style="italic" font-size="12.2" fill="#222">δ</text>
<text x="521.80" y="291.30" font-size="7.3" fill="#111">18</text>
<text x="529.20" y="296.00" font-size="11.2" fill="#111">O</text>
<text x="544.30" y="296.60" font-size="11.2" fill="#111">(‰)</text>
<text x="0" y="0" transform="translate(401.2,110.9) scale(0.8,1)" font-size="10" font-weight="bold" text-anchor="end">Pune</text>
<text x="0" y="0" transform="translate(401.2,159.8) scale(0.8,1)" font-size="10" font-weight="bold" text-anchor="end">Ahmedabad</text>
<text x="0" y="0" transform="translate(401.8,208.7) scale(0.8,1)" font-size="10" font-weight="bold" text-anchor="end">CMZ</text>
<text x="0" y="0" transform="translate(401.2,258.8) scale(0.8,1)" font-size="10" font-weight="bold" text-anchor="end">Kolkata</text>
<text x="646.30" y="29.20" font-size="9.6" text-anchor="end" font-weight="normal" fill="#000" >[e]</text>
</svg>
</body></html>
